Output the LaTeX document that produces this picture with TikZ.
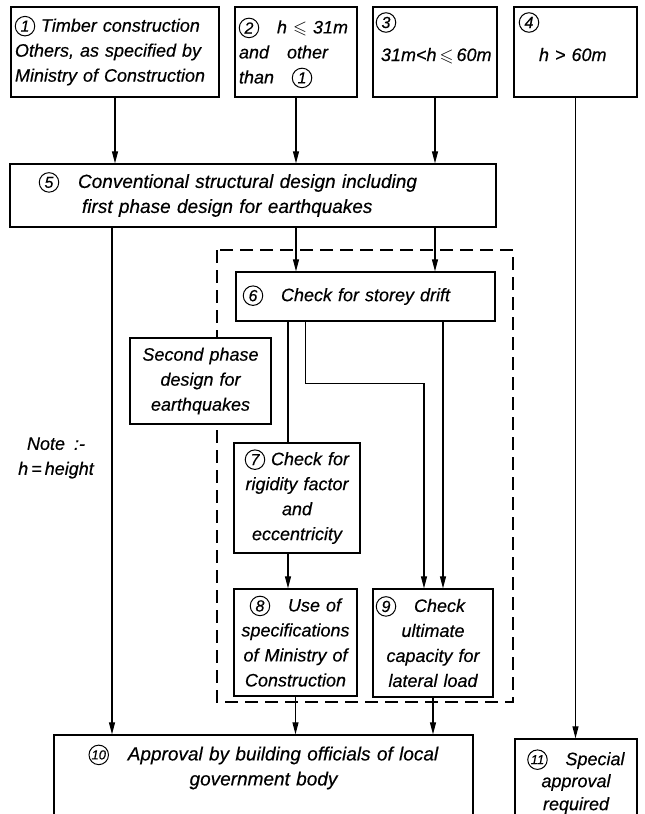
\documentclass[tikz,border=0pt]{standalone}
\usepackage{amssymb}
\usepackage{pict2e}
\usepackage{fontspec}
\setmainfont{Liberation Sans}[WordSpace=1.8,FakeBold=0.4]
\newfontfamily\widefont{Liberation Sans}[WordSpace=3.2,FakeBold=0.4]
\usetikzlibrary{arrows.meta}

% circled step number
\newcommand{\cnum}[2][16]{{\setlength{\unitlength}{1pt}\begin{picture}(20,10)
  \linethickness{1pt}\put(10,5.5){\circle{19.5}}
  \put(10,5.5){\makebox(0,0){\fontsize{#1}{#1}\selectfont #2}}\end{picture}}}

\tikzset{
  stage/.style={draw,line width=1.3pt,fill=white,inner ysep=0pt,align=left},
  arr/.style={line width=1.1pt,-{Triangle[length=12pt,width=6pt]}},
  wire/.style={line width=1.1pt},
  dashbox/.style={line width=1.5pt,dash pattern=on 13pt off 7pt},
}

\begin{document}
\begin{tikzpicture}[x=1pt,y=-1pt,font=\fontsize{18}{25}\selectfont\itshape]
\useasboundingbox (0,0) rectangle (645,814);
\clip (0,0) rectangle (645,814);

\draw[dashbox] (217,250) rectangle (513,702);

% top row
\node[stage,minimum width=208pt,minimum height=90pt,inner xsep=4pt,text width=200pt] (b1) at (115,52)
  {\cnum{1} Timber construction\\Others, as specified by\\Ministry of Construction};
\node[stage,minimum width=122pt,minimum height=90pt,inner xsep=4pt,text width=114pt] (b2) at (296,52)
  {\cnum{2}\quad h $\leqslant$ 31m\\and\quad other\\than\quad\cnum{1}};
\node[stage,minimum width=124pt,minimum height=90pt,inner xsep=3pt,text width=118pt] (b3) at (435,52)
  {\cnum{3}\\[8pt]\hspace*{5pt}31m<h\,$\leqslant$\,60m\\\mbox{}};
\node[stage,minimum width=123pt,minimum height=90pt,inner xsep=5pt,text width=113pt] (b4) at (575.5,52)
  {\cnum{4}\\[8pt]\hspace*{20pt}h > 60m\\\mbox{}};

\node[stage,minimum width=486pt,minimum height=63pt,inner xsep=29pt,text width=428pt,
  font=\widefont\fontsize{19}{25}\selectfont\itshape] (b5) at (253,195.5)
  {\cnum{5}\quad Conventional structural design including\\\hspace*{43pt}first phase design for earthquakes};

% second phase design
\node[stage,minimum width=259pt,minimum height=49pt,inner xsep=7pt,text width=245pt,
  font=\widefont\fontsize{18}{25}\selectfont\itshape] (b6) at (365.5,296.5)
  {\cnum{6}\quad Check for storey drift};
\node[stage,align=center,minimum width=141pt,minimum height=86pt,inner xsep=4pt,text width=133pt] (sp) at (200.5,381)
  {Second phase\\design for\\earthquakes};
\node[stage,align=center,minimum width=126pt,minimum height=110pt,inner xsep=2pt,text width=122pt] (b7) at (297,498)
  {\cnum{7}\ Check for\\rigidity factor\\and\\eccentricity};
\node[stage,align=center,minimum width=123pt,minimum height=107pt,inner xsep=2pt,text width=119pt] (b8) at (295.5,642.5)
  {\cnum{8}\quad Use of\\specifications\\of Ministry of\\Construction};
\node[stage,align=center,minimum width=120pt,minimum height=108pt,inner xsep=2pt,text width=116pt] (b9) at (433,643)
  {\makebox[114pt][l]{\cnum{9}\quad Check}\\ultimate\\capacity for\\lateral load};

% approvals
\node[stage,align=center,minimum width=419pt,minimum height=112pt,inner xsep=5pt,text width=409pt,
  font=\widefont\fontsize{19}{25}\selectfont\itshape] (b10) at (263.5,791)
  {\cnum[13]{10}\quad Approval by building officials of local\\government body\\\mbox{}\\\mbox{}};
\node[stage,align=center,minimum width=122pt,minimum height=88pt,inner xsep=2pt,text width=118pt] (b11) at (576,783)
  {\cnum[13]{11}\quad Special\\[-3pt]approval\\[-2pt]required};

\node[align=center] (note) at (56,458) {Note :-\\h\,=\,height};

% connectors
\foreach \n in {b1,b2,b3} \path[draw,arr] (\n) -- (\n |- b5.north);
\path[draw,arr] (b4) -- (b4 |- b11.north);
\path[draw,arr] ([xshift=-3pt]b5.south -| b1) -- ([xshift=-3pt]b10.north -| b1);
\foreach \n in {b2,b3} \path[draw,arr] (b5.south -| \n) -- (b6.north -| \n);
\path[draw,wire] ([xshift=-9pt]b7.north |- b6.south) -- ([xshift=-9pt]b7.north);
\path[draw,arr] ([xshift=-9pt]b7.south) -- ([xshift=-9pt]b7.south |- b8.north);
\path[draw,arr] ([xshift=-60pt]b6.south) -- ++(0,62) -| ([xshift=-9pt]b9.north);
\path[draw,arr] ([xshift=10pt]b9.north |- b6.south) -- ([xshift=10pt]b9.north);
\path[draw,arr] (b8) -- (b8 |- b10.north);
\path[draw,arr] (b9) -- (b9 |- b10.north);
\end{tikzpicture}
\end{document}
